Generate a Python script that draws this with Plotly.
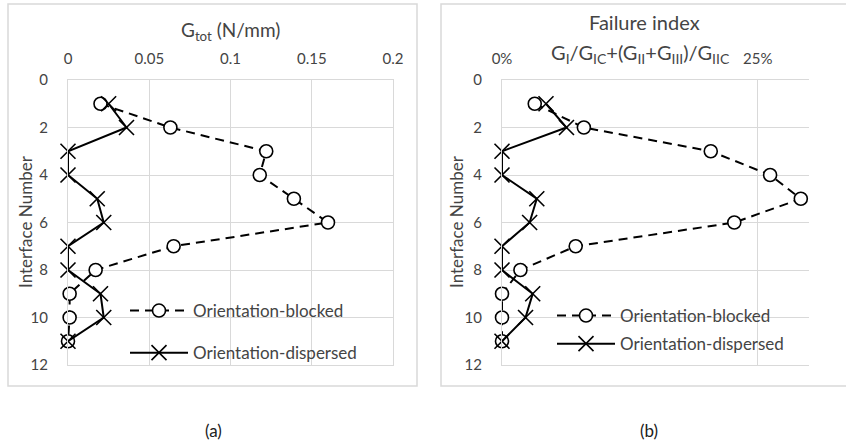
import plotly.graph_objects as go

# ---------------- data ----------------
interface_no = [1, 2, 3, 4, 5, 6, 7, 8, 9, 10, 11]

g_tot_blocked = [0.020, 0.063, 0.122, 0.118, 0.139, 0.160, 0.065, 0.017, 0.001, 0.001, 0.0]
g_tot_dispersed = [0.025, 0.036, 0.0, 0.0, 0.018, 0.022, 0.0, 0.0, 0.020, 0.022, 0.0]

fi_blocked = [0.032, 0.080, 0.204, 0.262, 0.292, 0.227, 0.072, 0.018, 0.0, 0.0, 0.0]
fi_dispersed = [0.043, 0.063, 0.0, 0.0, 0.034, 0.027, 0.0, 0.0, 0.030, 0.023, 0.0]

g_ticks = [0, 0.05, 0.1, 0.15, 0.2]
g_tick_text = ["0", "0.05", "0.1", "0.15", "0.2"]
fi_ticks = [0, 0.25]
fi_tick_text = ["0%", "25%"]
y_ticks = [0, 2, 4, 6, 8, 10, 12]

series_names = ["Orientation-blocked", "Orientation-dispersed"]

# ---------------- layout helpers ----------------
W, H = 846, 445
FONT = "Lato"
GRID = "#d9d9d9"
TXT = "#444444"


def px(x):
    return x / W


def py(y):
    return 1 - y / H


blocked_style = dict(
    mode="lines+markers", cliponaxis=False,
    line=dict(color="black", width=2, dash="9px,6px"),
    marker=dict(symbol="circle", size=13, color="white",
                line=dict(color="black", width=1.6)),
)
dispersed_style = dict(
    mode="lines+markers", cliponaxis=False,
    line=dict(color="black", width=2),
    marker=dict(symbol="x-thin-open", size=15,
                line=dict(color="black", width=1.6)),
)

fig = go.Figure()

# panel (a)
fig.add_trace(go.Scatter(x=g_tot_blocked, y=interface_no, name=series_names[0],
                         xaxis="x", yaxis="y", legend="legend",
                         legendgroup="a1", **blocked_style))
fig.add_trace(go.Scatter(x=g_tot_dispersed, y=interface_no, name=series_names[1],
                         xaxis="x", yaxis="y", legend="legend",
                         legendgroup="a2", **dispersed_style))
# panel (b)
fig.add_trace(go.Scatter(x=fi_blocked, y=interface_no, name=series_names[0],
                         xaxis="x2", yaxis="y2", legend="legend2",
                         legendgroup="b1", **blocked_style))
fig.add_trace(go.Scatter(x=fi_dispersed, y=interface_no, name=series_names[1],
                         xaxis="x2", yaxis="y2", legend="legend2",
                         legendgroup="b2", **dispersed_style))

tickfont = dict(family=FONT, size=15, color=TXT)
ydom = [py(365), py(80)]

common_x = dict(side="top", showgrid=True, gridcolor=GRID, gridwidth=1,
                zeroline=False, showline=True, linecolor=GRID, linewidth=1,
                mirror=True, ticks="", tickfont=tickfont, ticklabelstandoff=9,
                automargin=False, fixedrange=True)
common_y = dict(range=[12, 0], tickvals=y_ticks, showgrid=True, gridcolor=GRID,
                gridwidth=1, zeroline=False, showline=True, linecolor=GRID,
                linewidth=1, ticks="", tickfont=tickfont, ticklabelstandoff=16,
                automargin=False, fixedrange=True)

legend_font = dict(family=FONT, size=17, color=TXT)

fig.update_layout(
    width=W, height=H,
    margin=dict(l=0, r=0, t=0, b=0),
    paper_bgcolor="white", plot_bgcolor="white",
    template="none",
    showlegend=True,
    xaxis=dict(domain=[px(68), px(393)], anchor="y", range=[0, 0.2],
               tickvals=g_ticks, ticktext=g_tick_text, **common_x),
    yaxis=dict(domain=ydom, anchor="x", mirror=True, **common_y),
    xaxis2=dict(domain=[px(502), px(809)], anchor="y2", range=[0, 0.3],
                tickvals=fi_ticks, ticktext=fi_tick_text, **common_x),
    yaxis2=dict(domain=ydom, anchor="x2", mirror=False, **common_y),
    legend=dict(x=px(125), y=py(293), xanchor="left", yanchor="top",
                bgcolor="rgba(0,0,0,0)", font=legend_font,
                itemwidth=58, tracegroupgap=17, traceorder="grouped"),
    legend2=dict(x=px(552), y=py(298), xanchor="left", yanchor="top",
                 bgcolor="rgba(0,0,0,0)", font=legend_font,
                 itemwidth=58, tracegroupgap=3, traceorder="grouped"),
)

# frames around each chart
fig.add_shape(type="rect", xref="paper", yref="paper",
              x0=px(8), x1=px(417), y0=py(386), y1=py(4),
              line=dict(color=GRID, width=1.5), layer="below")
fig.add_shape(type="rect", xref="paper", yref="paper",
              x0=px(441), x1=px(860), y0=py(386), y1=py(4),
              line=dict(color=GRID, width=1.5), layer="below")


def label(text, x, y, size, color=TXT, angle=0):
    fig.add_annotation(text=text, xref="paper", yref="paper", x=px(x), y=py(y),
                       xanchor="center", yanchor="middle", showarrow=False,
                       textangle=angle, font=dict(family=FONT, size=size, color=color))


# titles
label("G<sub>tot</sub> (N/mm)", 230, 31, 19)
label("Failure index", 644, 22, 20)
label("G<sub>I</sub>/G<sub>IC</sub>+(G<sub>II</sub>+G<sub>III</sub>)/G<sub>IIC</sub>", 640, 53, 20)

# y-axis titles
label("Interface Number", 25, 222, 17, angle=-90)
label("Interface Number", 456, 222, 17, angle=-90)

# captions
label("(a)", 214, 430, 17, color="#202020")
label("(b)", 649, 430, 17, color="#202020")

fig.write_html("out.html", config={"displayModeBar": False},
               post_script="document.body.style.margin='0px';")
